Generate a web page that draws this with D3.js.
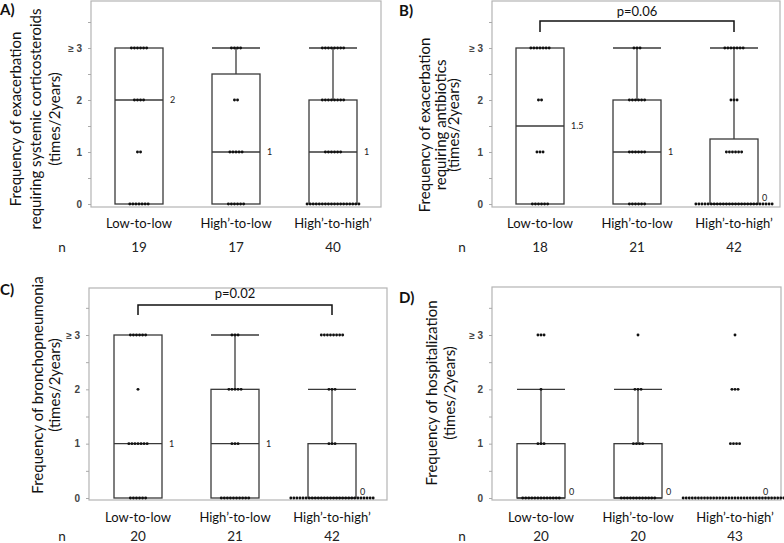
<!DOCTYPE html>
<title>Exacerbation frequency by group</title>
<style type="text/css">
	body { margin: 0; background: #fff; }
	svg { display: block; font-family: Lato, "Open Sans", sans-serif; }
	.frame { fill: none; stroke: #b4b4b4; stroke-width: 1.2px; }
	.box { fill: #fff; stroke: #3a3a3a; stroke-width: 1.3px; }
	.whisker { stroke: #3a3a3a; stroke-width: 1.3px; }
	.dot { fill: #111; }
	.tick line { stroke: #aaa; }
	.tick text { fill: #444; font-weight: bold; font-size: 10px; }
	.ytitle { font-size: 15px; fill: #111; }
	.cat { font-size: 13px; fill: #111; }
	.nval { font-size: 13.5px; fill: #222; }
	.med { font-size: 9px; fill: #222; }
	.plabel { font-size: 15px; font-weight: bold; fill: #111; }
	.bracket { fill: none; stroke: #111; stroke-width: 1.5px; }
	.pval { font-size: 13px; fill: #111; }
</style>
<body>
<script src="https://cdn.jsdelivr.net/npm/d3@7"></script>
<script type="text/javascript">
	const categories = ["Low-to-low", "High’-to-low", "High’-to-high’"];
	const levels = [0, 1, 2, 3];
	const yTicks = [0, 0.5, 1, 1.5, 2, 2.5, 3, 3.5];
	const yTickLabels = {0: "0", 1: "1", 2: "2", 3: "≥ 3"};

	// number of patients at 0, 1, 2, >=3 events, per group
	const countsA = [[7, 2, 4, 6], [6, 5, 2, 4], [18, 6, 8, 8]];
	const countsB = [[6, 3, 2, 7], [6, 6, 6, 3], [26, 6, 3, 7]];
	const countsC = [[6, 7, 1, 6], [10, 3, 5, 3], [28, 3, 3, 8]];
	const countsD = [[13, 3, 1, 3], [12, 4, 3, 1], [35, 4, 3, 1]];

	// box stats: q1, median, q3, upper whisker
	const q1A = [0, 0, 0], medA = [2, 1, 1], q3A = [3, 2.5, 2], whiskA = [3, 3, 3];
	const q1B = [0, 0, 0], medB = [1.5, 1, 0], q3B = [3, 2, 1.25], whiskB = [3, 3, 3];
	const q1C = [0, 0, 0], medC = [1, 1, 0], q3C = [3, 2, 1], whiskC = [3, 3, 2];
	const q1D = [0, 0, 0], medD = [0, 0, 0], q3D = [1, 1, 0], whiskD = [2, 2, 0];

	const nA = [19, 17, 40];
	const nB = [18, 21, 42];
	const nC = [20, 21, 42];
	const nD = [20, 20, 43];

	const titleA = ["Frequency of exacerbation", "requiring systemic corticosteroids", "(times/2years)"];
	const titleB = ["Frequency of exacerbation", "requiring antibiotics", "(times/2years)"];
	const titleC = ["Frequency of bronchopneumonia", "(times/2years)"];
	const titleD = ["Frequency of hospitalization", "(times/2years)"];

	const pB = "p=0.06";
	const pC = "p=0.02";

	const svg = d3.select('body').append('svg')
		.attr('width', 784)
		.attr('height', 543);

	const panels = [
		{ tag: "A)", tagX: 0, tagY: 15, counts: countsA, q1: q1A, med: medA, q3: q3A, whisk: whiskA, n: nA, title: titleA,
		  left: 91, right: 381, top: 1, bottom: 207, y0: 204, y3: 48, cx0: 139,
		  titleX: [21, 41, 60], titleY: 119, catY: 228, nY: 252, nX: 62 },
		{ tag: "B)", tagX: 399, tagY: 16, counts: countsB, q1: q1B, med: medB, q3: q3B, whisk: whiskB, n: nB, title: titleB,
		  left: 492, right: 780, top: 1, bottom: 207, y0: 204, y3: 48, cx0: 540,
		  titleX: [430, 446, 459], titleY: 125, catY: 228, nY: 252, nX: 462,
		  p: pB, pY: 16, brY: 21, brDrop: 32 },
		{ tag: "C)", tagX: 0, tagY: 295, counts: countsC, q1: q1C, med: medC, q3: q3C, whisk: whiskC, n: nC, title: titleC,
		  left: 89, right: 387, top: 288, bottom: 500, y0: 498, y3: 335, cx0: 138,
		  titleX: [43, 60], titleY: 385, catY: 522, nY: 541, nX: 62,
		  p: pC, pY: 298, brY: 305, brDrop: 315 },
		{ tag: "D)", tagX: 399, tagY: 303, counts: countsD, q1: q1D, med: medD, q3: q3D, whisk: whiskD, n: nD, title: titleD,
		  left: 492, right: 781, top: 287, bottom: 500, y0: 498, y3: 335, cx0: 541,
		  titleX: [437, 455], titleY: 393, catY: 522, nY: 541, nX: 462 }
	];

	const boxW = 48;
	const dotGap = 3.05;

	function drawPanel(p) {
		const g = svg.append('g');
		const y = d3.scaleLinear().domain([0, 3]).range([p.y0, p.y3]);
		const x = d3.scalePoint().domain(categories).range([p.cx0, p.cx0 + 194]);

		g.append('rect')
			.attr('class', 'frame')
			.attr('x', p.left).attr('y', p.top)
			.attr('width', p.right - p.left).attr('height', p.bottom - p.top);

		const yAxis = d3.axisLeft(y)
			.tickValues(yTicks)
			.tickSize(3)
			.tickPadding(6)
			.tickFormat(d => yTickLabels[d] || "");
		g.append('g')
			.attr('transform', `translate(${p.left}, 0)`)
			.call(yAxis)
			.call(a => a.select('.domain').remove());

		g.append('text').attr('class', 'plabel')
			.attr('x', p.tagX).attr('y', p.tagY).text(p.tag);

		// y title, rotated
		p.title.forEach((line, i) => {
			g.append('text').attr('class', 'ytitle')
				.attr('text-anchor', 'middle')
				.attr('transform', `translate(${p.titleX[i]}, ${p.titleY}) rotate(-90)`)
				.text(line);
		});

		categories.forEach((c, i) => {
			const cx = x(c);
			// whisker
			if (p.whisk[i] > p.q3[i]) {
				g.append('line').attr('class', 'whisker')
					.attr('x1', cx).attr('x2', cx)
					.attr('y1', y(p.q3[i])).attr('y2', y(p.whisk[i]));
				g.append('line').attr('class', 'whisker')
					.attr('x1', cx - boxW / 2).attr('x2', cx + boxW / 2)
					.attr('y1', y(p.whisk[i])).attr('y2', y(p.whisk[i]));
			}
			// box
			if (p.q3[i] > p.q1[i]) {
				g.append('rect').attr('class', 'box')
					.attr('x', cx - boxW / 2).attr('width', boxW)
					.attr('y', y(p.q3[i])).attr('height', y(p.q1[i]) - y(p.q3[i]));
				g.append('line').attr('class', 'whisker')
					.attr('x1', cx - boxW / 2).attr('x2', cx + boxW / 2)
					.attr('y1', y(p.med[i])).attr('y2', y(p.med[i]));
			}
			// median label
			const m = p.med[i];
			g.append('text').attr('class', 'med')
				.attr('x', cx + boxW / 2 + (m === 0 ? 4 : 7))
				.attr('y', m === 0 ? y(m) - 3 : y(m) + 3)
				.text(String(m));

			// dots
			levels.forEach((lv, j) => {
				const k = p.counts[i][j];
				g.selectAll(null).data(d3.range(k)).enter()
					.append('circle').attr('class', 'dot')
					.attr('r', 1.45)
					.attr('cx', d => cx + (d - (k - 1) / 2) * dotGap)
					.attr('cy', y(lv));
			});

			g.append('text').attr('class', 'cat')
				.attr('text-anchor', 'middle')
				.attr('x', cx).attr('y', p.catY).text(c);
			g.append('text').attr('class', 'nval')
				.attr('text-anchor', 'middle')
				.attr('x', cx).attr('y', p.nY).text(p.n[i]);
		});

		g.append('text').attr('class', 'nval')
			.attr('text-anchor', 'middle')
			.attr('x', p.nX).attr('y', p.nY).text('n');

		if (p.p) {
			const xa = x(categories[0]), xb = x(categories[2]);
			g.append('path').attr('class', 'bracket')
				.attr('d', `M${xa},${p.brDrop} V${p.brY} H${xb} V${p.brDrop}`);
			g.append('text').attr('class', 'pval')
				.attr('text-anchor', 'middle')
				.attr('x', (xa + xb) / 2).attr('y', p.pY).text(p.p);
		}
	}

	panels.forEach(drawPanel);
</script>
</body>
